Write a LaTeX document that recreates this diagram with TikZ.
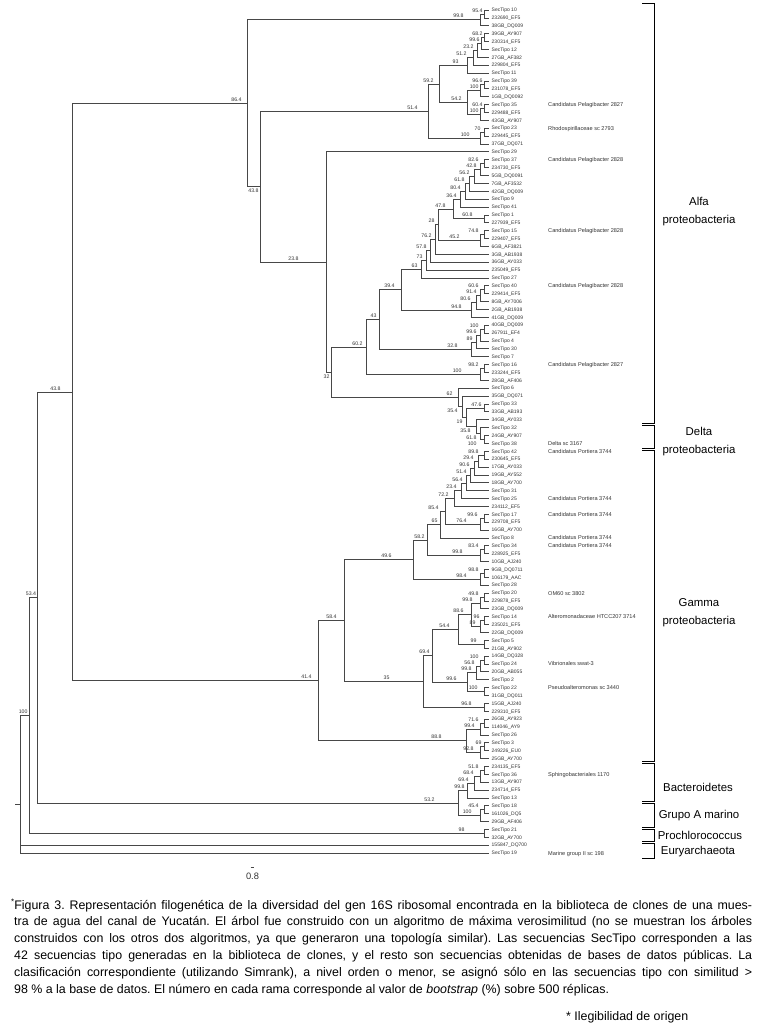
\documentclass[tikz,border=0pt]{standalone}
\usepackage{fontspec}
\setmainfont{Liberation Sans}
\usetikzlibrary{calc}
\tikzset{
  br/.style={draw=black!72, line width=0.7pt},
  brk/.style={draw=black, line width=1pt},
  leaf/.style={font=\fontsize{5}{6}\selectfont, text=black!80, inner sep=0pt, anchor=base west},
  ann/.style={font=\fontsize{5.6}{6}\selectfont, text=black!80, inner sep=0pt, anchor=base west},
  bs/.style={font=\fontsize{5.2}{6}\selectfont, text=black!80, inner sep=0.3pt},
  grp/.style={font=\fontsize{11.4}{18}\selectfont, align=center, inner sep=0pt},
  captext/.style={font=\fontsize{12.4}{16.8}\selectfont\frenchspacing, inner sep=0pt},
}
\newcommand\tn[4]{\path let \p1=(#3), \p2=(#4) in coordinate (#1) at (#2pt, {0.5*\y1+0.5*\y2});
  \draw[br] (#1) |- (#3); \draw[br] (#1) |- (#4);}
\newcommand\ba[3]{\node[bs,anchor=south east] (lab#1) at ([shift={(#2pt,1.3pt)}]#1) {#3};}
\newcommand\bbl[3]{\node[bs,anchor=north east] (lab#1) at ([shift={(#2pt,-1.9pt)}]#1) {#3};}
\newcommand\grpbr[3]{\coordinate (#1a) at (642,-#2); \coordinate (#1b) at (654,-#2);
  \coordinate (#1c) at (654,-#3); \coordinate (#1d) at (642,-#3);
  \draw[brk] (#1a) -- (#1b) -- (#1c) -- (#1d);}
\begin{document}
\begin{tikzpicture}[x=1pt,y=1pt]
\useasboundingbox (0,0) rectangle (759,-1030);
% leaves
\foreach \i/\t in {1/SecTipo 10,2/232690\_EF5,3/38GB\_DQ009,4/39GB\_AY907,5/230314\_EF5,6/SecTipo 12,7/27GB\_AF382,8/229804\_EF5,9/SecTipo 11,10/SecTipo 39,11/231078\_EF5,12/1GB\_DQ0092,13/SecTipo 35,14/229488\_EF5,15/43GB\_AY907,16/SecTipo 23,17/229445\_EF5,18/37GB\_DQ071,19/SecTipo 29,20/SecTipo 37,21/234730\_EF5,22/5GB\_DQ0091,23/7GB\_AF3532,24/42GB\_DQ009,25/SecTipo 9,26/SecTipo 41,27/SecTipo 1,28/227939\_EF5,29/SecTipo 15,30/229407\_EF5,31/6GB\_AF3821,32/3GB\_AB1938,33/36GB\_AY033,34/235049\_EF5,35/SecTipo 27,36/SecTipo 40,37/229414\_EF5,38/8GB\_AY7006,39/2GB\_AB1938,40/41GB\_DQ009,41/40GB\_DQ009,42/267911\_EF4,43/SecTipo 4,44/SecTipo 30,45/SecTipo 7,46/SecTipo 16,47/233244\_EF5,48/28GB\_AF406,49/SecTipo 6,50/35GB\_DQ071,51/SecTipo 33,52/33GB\_AB193,53/34GB\_AY033,54/SecTipo 32,55/24GB\_AY907,56/SecTipo 38,57/SecTipo 42,58/230645\_EF5,59/17GB\_AY033,60/19GB\_AY552,61/18GB\_AY700,62/SecTipo 31,63/SecTipo 25,64/234112\_EF5,65/SecTipo 17,66/229708\_EF5,67/16GB\_AY700,68/SecTipo 8,69/SecTipo 34,70/228925\_EF5,71/10GB\_AJ240,72/9GB\_DQ0711,73/106179\_AAC,74/SecTipo 28,75/SecTipo 20,76/229878\_EF5,77/23GB\_DQ009,78/SecTipo 14,79/235021\_EF5,80/22GB\_DQ009,81/SecTipo 5,82/21GB\_AY902,83/14GB\_DQ328,84/SecTipo 24,85/20GB\_AB055,86/SecTipo 2,87/SecTipo 22,88/31GB\_DQ011,89/15GB\_AJ240,90/229310\_EF5,91/26GB\_AY923,92/114046\_AY9,93/SecTipo 26,94/SecTipo 3,95/249226\_EU0,96/25GB\_AY700,97/234135\_EF5,98/SecTipo 36,99/13GB\_AY907,100/234714\_EF5,101/SecTipo 13,102/SecTipo 18,103/161026\_DQ5,104/29GB\_AF406,105/SecTipo 21,106/32GB\_AY700,107/155847\_DQ700,108/SecTipo 19}{
  \coordinate (L\i) at (489,{-(10+(\i-1)*7.879)});
  \node[leaf] (T\i) at (491.5,{-(10+(\i-1)*7.879)-1.8}) {\t};
}
\foreach \i/\t in {13/Candidatus Pelagibacter 2827,16/Rhodospirillaceae sc 2793,20/Candidatus Pelagibacter 2828,29/Candidatus Pelagibacter 2828,36/Candidatus Pelagibacter 2828,46/Candidatus Pelagibacter 2827,56/Delta sc 3167,57/Candidatus Portiera 3744,63/Candidatus Portiera 3744,65/Candidatus Portiera 3744,68/Candidatus Portiera 3744,69/Candidatus Portiera 3744,75/OM60 sc 3802,78/Alteromonadaceae HTCC207 3714,84/Vibrionales swat-3,87/Pseudoalteromonas sc 3440,98/Sphingobacteriales 1170,108/Marine group II sc 198}{
  \node[ann] (A\i) at (548,{-(10+(\i-1)*7.879)-2}) {\t};
}
% ---- Alfa
\tn{a1}{484}{L1}{L2}\ba{a1}{-1}{95.4}
\tn{a2}{480}{a1}{L3}\ba{a2}{-16}{99.8}
\tn{a3}{484}{L4}{L5}\ba{a3}{-1}{68.2}
\tn{a4}{481}{a3}{L6}\ba{a4}{-1}{99.6}
\tn{a5}{477}{a4}{L7}\ba{a5}{-3}{23.2}
\tn{a6}{473}{a5}{L8}\ba{a6}{-6}{51.2}
\tn{a7}{467}{a6}{L9}\ba{a7}{-8}{93}
\tn{a8}{484}{L10}{L11}\ba{a8}{-1}{96.6}
\tn{a9}{480}{a8}{L12}\ba{a9}{-1}{100}
\tn{a10}{484}{L13}{L14}\ba{a10}{-1}{60.4}
\tn{a11}{480}{a10}{L15}\ba{a11}{-1}{100}
\tn{a12}{467}{a9}{a11}\ba{a12}{-5}{54.2}
\tn{a13}{439}{a7}{a12}\ba{a13}{-5}{59.2}
\tn{a14}{484}{L16}{L17}\ba{a14}{-3}{70}
\tn{a15}{480}{a14}{L18}\ba{a15}{-10}{100}
\tn{a16}{428}{a13}{a15}\ba{a16}{-10}{51.4}
\tn{a17}{484}{L20}{L21}\ba{a17}{-5}{82.6}
\tn{a18}{480}{a17}{L22}\ba{a18}{-3}{42.8}
\tn{a19}{474}{a18}{L23}\ba{a19}{-4}{56.2}
\tn{a20}{469}{a19}{L24}\ba{a20}{-4}{61.8}
\tn{a21}{465}{a20}{L25}\ba{a21}{-4}{80.4}
\tn{a22}{460}{a21}{L26}\ba{a22}{-3}{36.4}
\tn{a23}{484}{L27}{L28}\ba{a23}{-11}{60.8}
\tn{a24}{453}{a22}{a23}\ba{a24}{-7}{47.8}
\tn{a25}{484}{L29}{L30}\ba{a25}{-5}{74.8}
\tn{a26}{480}{a25}{L31}\ba{a26}{-20}{45.2}
\tn{a27}{438}{a24}{a26}\ba{a27}{-3}{28}
\tn{a28}{435}{a27}{L32}\ba{a28}{-3}{76.2}
\tn{a29}{430}{a28}{L33}\ba{a29}{-3}{57.8}
\tn{a30}{426}{a29}{L34}\ba{a30}{-3}{73}
\tn{a31}{421}{a30}{L35}\ba{a31}{-3}{63}
\tn{a32}{484}{L36}{L37}\ba{a32}{-5}{60.6}
\tn{a33}{480}{a32}{L38}\ba{a33}{-3}{91.4}
\tn{a34}{476}{a33}{L39}\ba{a34}{-5}{80.6}
\tn{a35}{471}{a34}{L40}\ba{a35}{-9}{94.8}
\tn{a36}{401}{a31}{a35}\ba{a36}{-6}{39.4}
\tn{a37}{484}{L41}{L42}\ba{a37}{-5}{100}
\tn{a38}{480}{a37}{L43}\ba{a38}{-3}{99.6}
\tn{a39}{476}{a38}{L44}\ba{a39}{-3}{89}
\tn{a40}{471}{a39}{L45}\ba{a40}{-13}{32.8}
\tn{a41}{379}{a36}{a40}\ba{a41}{-2}{43}
\tn{a42}{484}{L46}{L47}\ba{a42}{-5}{98.2}
\tn{a43}{480}{a42}{L48}\ba{a43}{-18}{100}
\tn{a44}{366}{a41}{a43}\ba{a44}{-3}{60.2}
% ---- Delta region
\tn{d1}{484}{L51}{L52}\ba{d1}{-2}{47.6}
\tn{d2}{484}{L55}{L56}\bbl{d2}{-7}{100}
\tn{d3}{480}{L54}{d2}\bbl{d3}{-3}{61.8}
\tn{d4}{476}{L53}{d3}\bbl{d4}{-5}{35.8}
\tn{d5}{466}{d1}{d4}\bbl{d5}{-3}{19}
\tn{d6}{462}{L50}{d5}\bbl{d6}{-4}{35.4}
\tn{d7}{458}{L49}{d6}\ba{d7}{-5}{62}
\tn{a45}{331}{a44}{d7}\bbl{a45}{-1}{32}
\tn{a46}{326}{L19}{a45}\ba{a46}{-27}{23.8}
\tn{a47}{260}{a16}{a46}\bbl{a47}{-1}{43.8}
\tn{a48}{247}{a2}{a47}\ba{a48}{-5}{86.4}
% ---- Gamma
\tn{g1}{484}{L57}{L58}\ba{g1}{-5}{89.8}
\tn{g2}{478}{g1}{L59}\ba{g2}{-4}{29.4}
\tn{g3}{474}{g2}{L60}\ba{g3}{-4}{90.6}
\tn{g4}{470}{g3}{L61}\ba{g4}{-3}{51.4}
\tn{g5}{466}{g4}{L62}\ba{g5}{-3}{56.4}
\tn{g6}{461}{g5}{L63}\ba{g6}{-4}{23.4}
\tn{g7}{454}{g6}{L64}\ba{g7}{-5}{72.2}
\tn{g8}{484}{L65}{L66}\ba{g8}{-6}{99.6}
\tn{g9}{480}{g8}{L67}\ba{g9}{-13}{76.4}
\tn{g10}{445}{g7}{g9}\ba{g10}{-6}{85.4}
\tn{g11}{440}{g10}{L68}\ba{g11}{-2}{65}
\tn{g12}{484}{L69}{L70}\ba{g12}{-5}{83.4}
\tn{g13}{480}{g12}{L71}\ba{g13}{-17}{99.8}
\tn{g14}{427}{g11}{g13}\ba{g14}{-2}{58.2}
\tn{g15}{484}{L72}{L73}\ba{g15}{-5}{98.8}
\tn{g16}{480}{g15}{L74}\ba{g16}{-13}{98.4}
\tn{g17}{413}{g14}{g16}\ba{g17}{-21}{49.6}
\tn{g18}{484}{L75}{L76}\ba{g18}{-5}{49.8}
\tn{g19}{480}{g18}{L77}\ba{g19}{-7}{99.8}
\tn{g20}{484}{L78}{L79}\ba{g20}{-4}{96}
\tn{g21}{480}{g20}{L80}\ba{g21}{-4}{89}
\tn{g22}{471}{g19}{g21}\ba{g22}{-7}{88.6}
\tn{g23}{484}{L81}{L82}\ba{g23}{-7}{99}
\tn{g24}{458}{g22}{g23}\ba{g24}{-8}{54.4}
\tn{g25}{484}{L83}{L84}\ba{g25}{-5}{100}
\tn{g26}{480}{g25}{L85}\ba{g26}{-5}{56.8}
\tn{g27}{476}{g26}{L86}\ba{g27}{-4}{99.8}
\tn{g28}{484}{L87}{L88}\ba{g28}{-6}{100}
\tn{g29}{467}{g27}{g28}\ba{g29}{-10}{99.6}
\tn{g30}{432}{g24}{g29}\ba{g30}{-2}{69.4}
\tn{g31}{484}{L89}{L90}\ba{g31}{-12}{96.8}
\tn{g32}{423}{g30}{g31}\ba{g32}{-33}{35}
\tn{g33}{344}{g17}{g32}\ba{g33}{-7}{58.4}
\tn{g34}{484}{L91}{L92}\ba{g34}{-5}{71.6}
\tn{g35}{480}{g34}{L93}\ba{g35}{-5}{99.4}
\tn{g36}{484}{L94}{L95}\ba{g36}{-2}{69}
\tn{g37}{480}{g36}{L96}\ba{g37}{-6}{92.8}
\tn{g38}{466}{g35}{g37}\ba{g38}{-24}{88.8}
\tn{g39}{318}{g33}{g38}\ba{g39}{-6}{41.4}
\tn{r1}{72}{a48}{g39}\ba{r1}{-11}{43.8}
% ---- Bacteroidetes and others
\tn{b1}{484}{L97}{L98}\ba{b1}{-5}{51.8}
\tn{b2}{480}{b1}{L99}\ba{b2}{-6}{68.4}
\tn{b3}{474}{b2}{L100}\ba{b3}{-5}{69.4}
\tn{b4}{467}{b3}{L101}\ba{b4}{-2}{99.8}
\tn{b5}{484}{L102}{L103}\ba{b5}{-5}{45.4}
\tn{b6}{480}{b5}{L104}\ba{b6}{-8}{100}
\tn{b7}{458}{b4}{b6}\ba{b7}{-23}{53.2}
\tn{r2}{37}{r1}{b7}\ba{r2}{-0.5}{53.4}
\tn{p1}{484}{L105}{L106}\ba{p1}{-19}{98}
\tn{r3}{29}{r2}{p1}\ba{r3}{-1}{100}
\path let \p1=(r3), \p2=(L107), \p3=(L108) in coordinate (root) at (20pt,{(\y1+\y2+\y3)/3});
\draw[br] (root) |- (r3); \draw[br] (root) |- (L107); \draw[br] (root) |- (L108);
\coordinate (rootstub) at ([xshift=-5pt]root);
\draw[br] (rootstub) -- (root);
% ---- scale bar
\coordinate (sb1) at (250.5,-867); \coordinate (sb2) at (254,-867);
\draw[br] (sb1) -- (sb2);
\node[font=\fontsize{9.3}{10}\selectfont, text=black!80, inner sep=0pt] (sbl) at (252.5,-876.5) {0.8};
% ---- group brackets
\grpbr{ka}{4}{423}
\grpbr{kd}{425.5}{448}
\grpbr{kg}{450.5}{761}
\grpbr{kb}{763.5}{801}
\grpbr{km}{803.5}{827}
\grpbr{kp}{829.5}{841}
\grpbr{ke}{843.5}{858}
\node[grp] (ga) at (699,-212) {Alfa\\proteobacteria};
\node[grp] (gd) at (699,-442) {Delta\\proteobacteria};
\node[grp] (gg) at (699,-613) {Gamma\\proteobacteria};
\node[grp] (gb) at (698,-787) {Bacteroidetes};
\node[grp] (gm) at (699,-816) {Grupo A marino};
\node[grp] (gp) at (700,-835) {Prochlorococcus};
\node[grp] (ge) at (698,-852) {Euryarchaeota};
% ---- caption
\node[captext, anchor=north west, text width=738pt, align=justify] (caption) at (14,-898.8) {%
\hspace*{-3pt}\raisebox{4.5pt}{\fontsize{8}{8}\selectfont *}Figura 3. Representación filogenética de la diversidad del gen 16S ribosomal encontrada en la biblioteca de clones de una mues-\linebreak
tra de agua del canal de Yucatán. El árbol fue construido con un algoritmo de máxima verosimilitud (no se muestran los árboles\linebreak
construidos con los otros dos algoritmos, ya que generaron una topología similar). Las secuencias SecTipo corresponden a las\linebreak
42 secuencias tipo generadas en la biblioteca de clones, y el resto son secuencias obtenidas de bases de datos públicas. La\linebreak
clasificación correspondiente (utilizando Simrank), a nivel orden o menor, se asignó sólo en las secuencias tipo con similitud >\linebreak
98 \% a la base de datos. El número en cada rama corresponde al valor de \textit{bootstrap} (\%) sobre 500 réplicas.};
\node[captext, anchor=west] (note) at (566,-1017) {* Ilegibilidad de origen};
\end{tikzpicture}
\end{document}
